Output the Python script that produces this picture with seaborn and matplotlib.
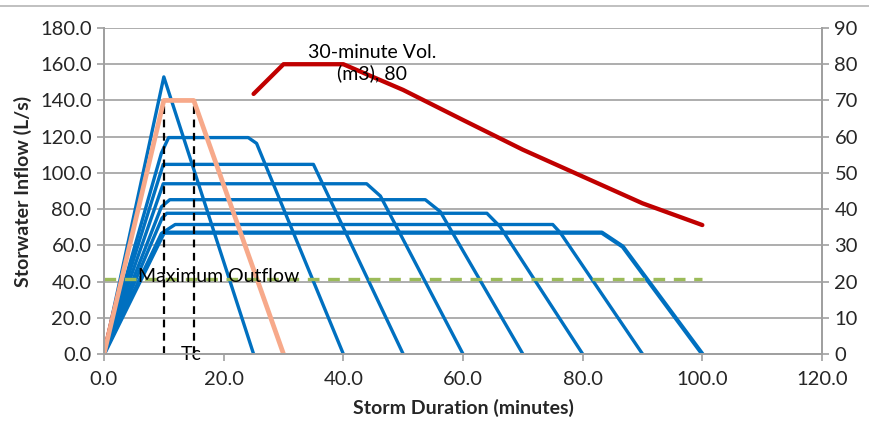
import matplotlib
matplotlib.use("Agg")
import matplotlib.pyplot as plt
import seaborn as sns
import pandas as pd
from matplotlib.lines import Line2D

# ---- data ----
tri_t = [0, 10, 25]
tri_q = [0, 153, 0]
tc15_t = [0, 10, 15, 30]
tc15_q = [0, 140, 140, 0]
d25_t = [0, 9.6, 10.8, 24.1, 25.5, 40]
d25_q = [0, 111, 119.5, 119.5, 116.3, 0]
d35_t = [0, 9.9, 35, 50]
d35_q = [0, 104.7, 104.7, 0]
d45_t = [0, 9.9, 43.9, 46.2, 60]
d45_q = [0, 94, 94, 87.2, 0]
d55_t = [0, 9.6, 11, 53.7, 56.2, 70]
d55_q = [0, 81.3, 85.2, 85.2, 78.6, 0]
d65_t = [0, 9.7, 10.5, 64, 66.2, 80]
d65_q = [0, 75, 77.7, 77.7, 70.3, 0]
d75_t = [0, 9.6, 11.9, 75, 76.3, 90]
d75_q = [0, 66.6, 71.5, 71.5, 66.8, 0]
d85_t = [0, 10, 83.2, 86.7, 100]
d85_q = [0, 67, 67, 59.3, 0]

vol_t = [25, 30, 40, 50, 60, 70, 80, 90, 100]
vol_m3 = [71.8, 80, 80, 72.9, 64.6, 56.4, 49, 41.6, 35.6]

outflow_t = [0, 100]
outflow_q = [41.6, 41.6]

tc_times = [10, 15]
tc_top = 140

x_ticks = [0, 20, 40, 60, 80, 100, 120]
y_ticks = [0, 20, 40, 60, 80, 100, 120, 140, 160, 180]
y2_ticks = [0, 10, 20, 30, 40, 50, 60, 70, 80, 90]

x_label = "Storm Duration (minutes)"
y_label = "Storwater Inflow (L/s)"
vol_label = "30-minute Vol.\n(m3), 80"
outflow_label = "Maximum Outflow"
tc_label = "Tc"

# ---- style ----
sns.set_theme(style="white")
plt.rcParams['font.family'] = ['Lato', 'DejaVu Sans']

BLUE = "#0070C0"
RED = "#C00000"
SALMON = "#F7A98A"
GREEN = "#9BBB59"
GRID = "#A0A0A0"
FS = 14
TFS = 14.5

fig = plt.figure(figsize=(8.7, 4.24), dpi=100)
ax = fig.add_axes([104/870, 1-354/424, (822-104)/870, (354-28)/424])
ax2 = ax.twinx()

blue_series = [(tri_t, tri_q), (d25_t, d25_q), (d35_t, d35_q), (d45_t, d45_q),
               (d55_t, d55_q), (d65_t, d65_q), (d75_t, d75_q)]
for t, q in blue_series:
    sns.lineplot(x=t, y=q, ax=ax, sort=False, estimator=None, color=BLUE, lw=2.4)
sns.lineplot(x=d85_t, y=d85_q, ax=ax, sort=False, estimator=None, color=BLUE, lw=3.1)

# Tc dashed lines
for tc in tc_times:
    sns.lineplot(x=[tc, tc], y=[0, tc_top], ax=ax, sort=False, estimator=None,
                 color="black", lw=1.6, linestyle=(0, (3.5, 2.5)))

# Tc hydrograph (red under salmon)
sns.lineplot(x=tc15_t, y=[3, 140, 140, 0], ax=ax, sort=False, estimator=None,
             color=RED, lw=1.6)
sns.lineplot(x=tc15_t, y=tc15_q, ax=ax, sort=False, estimator=None,
             color=SALMON, lw=3.4)

# maximum outflow
sns.lineplot(x=outflow_t, y=outflow_q, ax=ax, sort=False, estimator=None,
             color=GREEN, lw=2.4, linestyle=(0, (3.5, 2.6)))

# volume on secondary axis
sns.lineplot(x=vol_t, y=vol_m3, ax=ax2, sort=False, estimator=None, color=RED, lw=3.1)

ax.text(19.1, 42.7, outflow_label, ha="center", va="center", fontsize=FS, color="black", zorder=10)
ax.text(14.6, -0.3, tc_label, ha="center", va="center", fontsize=FS, color="black", zorder=10)
ax2.text(44.8, 80.3, vol_label, ha="center", va="center", fontsize=FS, color="black",
         linespacing=1.2, zorder=10)

# axes
ax.set_xlim(0, 120)
ax.set_ylim(0, 180)
ax2.set_ylim(0, 90)
ax.set_xticks(x_ticks)
ax.set_xticklabels([f"{v:.1f}" for v in x_ticks])
ax.set_yticks(y_ticks)
ax.set_yticklabels([f"{v:.1f}" for v in y_ticks])
ax2.set_yticks(y2_ticks)
ax2.set_yticklabels([str(v) for v in y2_ticks])

ax.grid(axis="y", color=GRID, lw=1.2)
ax.grid(axis="x", visible=False)
ax2.grid(False)
ax.set_axisbelow(True)

for a in (ax, ax2):
    a.spines["top"].set_visible(False)
    for side in ("left", "right", "bottom"):
        a.spines[side].set_color(GRID)
        a.spines[side].set_linewidth(1.3)
ax.tick_params(axis="both", which="major", labelsize=TFS, length=5, width=1.2,
               color=GRID, direction="out", left=True, bottom=True, pad=4)
ax2.tick_params(axis="y", labelsize=TFS, length=5, width=1.2, color=GRID,
                direction="out", right=True, pad=4)
ax.tick_params(axis="x", pad=7)

ax.set_xlabel(x_label, fontsize=FS, fontweight="bold", labelpad=8)
ax.set_ylabel(y_label, fontsize=FS, fontweight="bold", labelpad=6)
ax2.set_ylabel("")

fig.add_artist(Line2D([0, 1], [1 - 5.5/424, 1 - 5.5/424], color="#C0C0C0", lw=1.4,
                      transform=fig.transFigure))

fig.savefig("out.png", dpi=100)
